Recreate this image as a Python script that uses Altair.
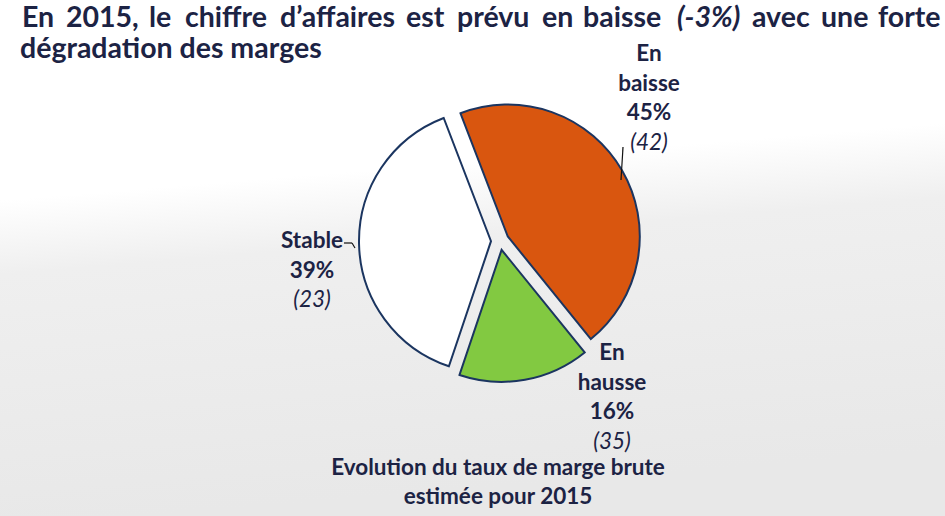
import math
import altair as alt
import pandas as pd

# ---- data ----
categories = ["En baisse", "En hausse", "Stable"]
shares = [45, 16, 39]
counts = [42, 35, 23]
slice_colors = ["#D9560F", "#82C941", "#FFFFFF"]

title_line1_words = ["En", "2015,", "le", "chiffre", "d\u2019affaires", "est", "prévu",
                     "en", "baisse", "(-3%)", "avec", "une", "forte"]
title_line2 = "dégradation des marges"
caption = ["Evolution du taux de marge brute", "estimée pour 2015"]

# ---- layout ----
W, H = 945, 516
NAVY = "#1C2344"
FONT = "Lato"
START = -21 / 180 * math.pi  # first slice starts slightly left of 12 o'clock
CX, CY, R, EXPLODE = 500, 241, 132, 9
word_x = [22, 66, 149, 185, 280, 406, 457, 542, 583, 677, 752, 821, 878]

df = pd.DataFrame({"cat": categories, "pct": shares, "n": counts,
                   "order": list(range(len(categories)))})

bg = alt.Chart(pd.DataFrame({"a": [0]})).mark_rect(
    color=alt.Gradient(
        gradient="linear", x1=0, x2=0.15, y1=0, y2=1,
        stops=[alt.GradientStop(color="#FFFFFF", offset=0),
               alt.GradientStop(color="#FFFFFF", offset=0.38),
               alt.GradientStop(color="#EFEFEF", offset=0.52),
               alt.GradientStop(color="#E8E8E8", offset=1)])
).encode(x=alt.value(0), x2=alt.value(W), y=alt.value(0), y2=alt.value(H))

pie = alt.Chart(df).transform_window(
    c1="sum(pct)", sort=[alt.SortField("order")], frame=[None, 0]
).transform_calculate(
    c0="datum.c1 - datum.pct",
    ang=f"{START} + (datum.c1 - datum.pct / 2) / 100 * 2 * PI",
).transform_calculate(
    ox="sin(datum.ang)",
    oy="-cos(datum.ang)",
).mark_arc(radius=R, stroke="#1B3560", strokeWidth=2).encode(
    theta=alt.Theta("c0:Q", stack=False,
                    scale=alt.Scale(domain=[0, 100], range=[START, START + 2 * math.pi])),
    theta2=alt.Theta2("c1:Q"),
    x=alt.X("ox:Q", axis=None, scale=alt.Scale(domain=[-1, 1], range=[CX - EXPLODE, CX + EXPLODE])),
    y=alt.Y("oy:Q", axis=None, scale=alt.Scale(domain=[-1, 1], range=[CY - EXPLODE, CY + EXPLODE])),
    color=alt.Color("cat:N", legend=None,
                    scale=alt.Scale(domain=categories, range=slice_colors)),
)

one = pd.DataFrame({"a": [0]})


def txt(s, x, y, size=22.5, bold=True, italic=False, align="center"):
    return alt.Chart(one).mark_text(
        text=s, font=FONT, fontSize=size, fontWeight="bold" if bold else "normal",
        fontStyle="italic" if italic else "normal", align=align, baseline="middle",
        color=NAVY,
    ).encode(x=alt.value(x), y=alt.value(y))


def label(i, x, y0, step=29.5):
    layers = []
    lines = categories[i].split(" ") + [f"{shares[i]}%"]
    for k, s in enumerate(lines):
        layers.append(txt(s, x, y0 + k * step))
    layers.append(txt(f"({counts[i]})", x, y0 + len(lines) * step, bold=False, italic=True))
    return layers


def seg(x1, y1, x2, y2):
    return alt.Chart(one).mark_rule(color="#111111", strokeWidth=1.2).encode(
        x=alt.value(x1), y=alt.value(y1), x2=alt.value(x2), y2=alt.value(y2))


layers = [bg, pie]
layers += label(0, 649, 54)
layers += label(1, 612, 353)
layers += label(2, 312, 241)
layers += [seg(623, 147, 621, 180), seg(344, 243, 352, 243), seg(352, 243, 355, 248)]
layers += [txt(caption[0], 498, 468), txt(caption[1], 498, 497)]
for w, x in zip(title_line1_words, word_x):
    layers.append(txt(w, x, 18, size=28.5, align="left", italic=w.startswith("(")))
layers.append(txt(title_line2, 20, 49, size=28.5, align="left"))

chart = alt.layer(*layers).properties(
    width=W, height=H, padding=0, autosize=alt.AutoSizeParams(type="none")
).configure_view(stroke=None)

chart.save("out.html", embed_options={"renderer": "svg", "actions": False})
